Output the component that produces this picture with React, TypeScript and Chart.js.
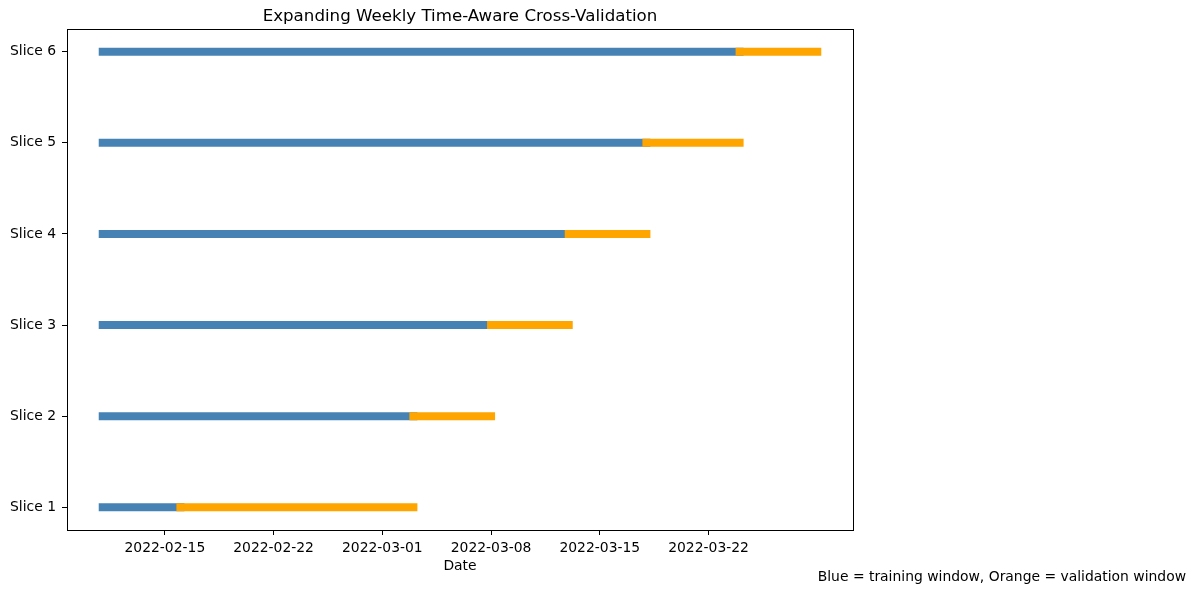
import React, { useEffect, useRef } from "react";
import { Chart, registerables } from "chart.js";

Chart.register(...registerables);

const sliceLabels = ["Slice 1", "Slice 2", "Slice 3", "Slice 4", "Slice 5", "Slice 6"];
const trainStart = ["2022-02-11", "2022-02-11", "2022-02-11", "2022-02-11", "2022-02-11", "2022-02-11"];
const trainEnd = ["2022-02-16", "2022-03-03", "2022-03-08", "2022-03-13", "2022-03-18", "2022-03-24"];
const validEnd = ["2022-03-03", "2022-03-08", "2022-03-13", "2022-03-18", "2022-03-24", "2022-03-29"];
const tickDates = ["2022-02-15", "2022-02-22", "2022-03-01", "2022-03-08", "2022-03-15", "2022-03-22"];

const TITLE = "Expanding Weekly Time-Aware Cross-Validation";
const X_TITLE = "Date";
const FOOTNOTE = "Blue = training window, Orange = validation window";

const BLUE = "#4682b4";
const ORANGE = "#ffa500";
const FONT = "'DejaVu Sans', sans-serif";

const toDay = (s: string) => Date.parse(s + "T00:00:00Z") / 86400000;
const fmtDay = (v: number) => new Date(Math.round(v * 86400000)).toISOString().slice(0, 10);

export default function App() {
  const ref = useRef<HTMLCanvasElement | null>(null);

  useEffect(() => {
    if (!ref.current) return;
    const datasets: any[] = [];
    sliceLabels.forEach((_, i) => {
      datasets.push({
        data: [
          { x: toDay(trainStart[i]), y: i + 1 },
          { x: toDay(trainEnd[i]), y: i + 1 },
        ],
        borderColor: BLUE,
        backgroundColor: BLUE,
        borderWidth: 8,
        borderCapStyle: "square",
        pointRadius: 0,
        showLine: true,
        order: 2,
      });
      datasets.push({
        data: [
          { x: toDay(trainEnd[i]), y: i + 1 },
          { x: toDay(validEnd[i]), y: i + 1 },
        ],
        borderColor: ORANGE,
        backgroundColor: ORANGE,
        borderWidth: 8,
        borderCapStyle: "square",
        pointRadius: 0,
        showLine: true,
        order: 1,
      });
    });

    const xs = [...trainStart, ...validEnd].map(toDay);
    const xMin = Math.min(...xs);
    const xMax = Math.max(...xs);
    const xPad = (xMax - xMin) * 0.05;
    const yPad = (sliceLabels.length - 1) * 0.05;

    const framePlugin = {
      id: "frameAndNote",
      afterDraw(chart: any) {
        const { ctx, chartArea } = chart;
        ctx.save();
        ctx.strokeStyle = "#000";
        ctx.lineWidth = 1;
        ctx.strokeRect(
          Math.round(chartArea.left) + 0.5,
          Math.round(chartArea.top) + 0.5,
          Math.round(chartArea.right - chartArea.left),
          Math.round(chartArea.bottom - chartArea.top)
        );
        ctx.fillStyle = "#000";
        ctx.font = `13.9px ${FONT}`;
        ctx.textAlign = "right";
        ctx.textBaseline = "middle";
        ctx.fillText(FOOTNOTE, 1186, 577);
        ctx.restore();
      },
    };

    const chart = new Chart(ref.current, {
      type: "scatter",
      data: { datasets },
      plugins: [framePlugin],
      options: {
        animation: false,
        responsive: false,
        devicePixelRatio: 1,
        layout: { padding: { left: 0, right: 343, top: 0, bottom: 0 } },
        plugins: {
          legend: { display: false },
          tooltip: { enabled: false },
          title: {
            display: true,
            text: TITLE,
            fullSize: false,
            color: "#000",
            font: { family: FONT, size: 16.67, weight: "normal" },
            padding: { top: 7, bottom: 2 },
          },
        },
        scales: {
          x: {
            type: "linear",
            min: xMin - xPad,
            max: xMax + xPad,
            afterBuildTicks: (scale: any) => {
              scale.ticks = tickDates.map((d) => ({ value: toDay(d) }));
            },
            afterFit: (scale: any) => {
              scale.height = 63;
            },
            ticks: {
              autoSkip: false,
              maxRotation: 0,
              color: "#000",
              font: { family: FONT, size: 13.9 },
              padding: 5,
              callback: (v: any) => fmtDay(Number(v)),
            },
            grid: { drawOnChartArea: false, drawTicks: true, tickLength: 5, color: "#000" },
            border: { display: true, color: "#000" },
            title: {
              display: true,
              text: X_TITLE,
              color: "#000",
              font: { family: FONT, size: 13.9 },
              padding: { top: 0, bottom: 18 },
            },
          },
          y: {
            type: "linear",
            min: 1 - yPad,
            max: sliceLabels.length + yPad,
            afterBuildTicks: (scale: any) => {
              scale.ticks = sliceLabels.map((_, i) => ({ value: i + 1 }));
            },
            afterFit: (scale: any) => {
              scale.width = 67;
            },
            ticks: {
              autoSkip: false,
              color: "#000",
              font: { family: FONT, size: 13.9 },
              padding: 6,
              callback: (v: any) => sliceLabels[Math.round(Number(v)) - 1] ?? "",
            },
            grid: { drawOnChartArea: false, drawTicks: true, tickLength: 5, color: "#000" },
            border: { display: true, color: "#000" },
          },
        },
      } as any,
    });
    return () => chart.destroy();
  }, []);

  return (
    <div style={{ position: "fixed", left: 0, top: 0, width: 1196, height: 593, background: "#fff" }}>
      <canvas ref={ref} width={1196} height={593} style={{ display: "block" }} />
    </div>
  );
}
